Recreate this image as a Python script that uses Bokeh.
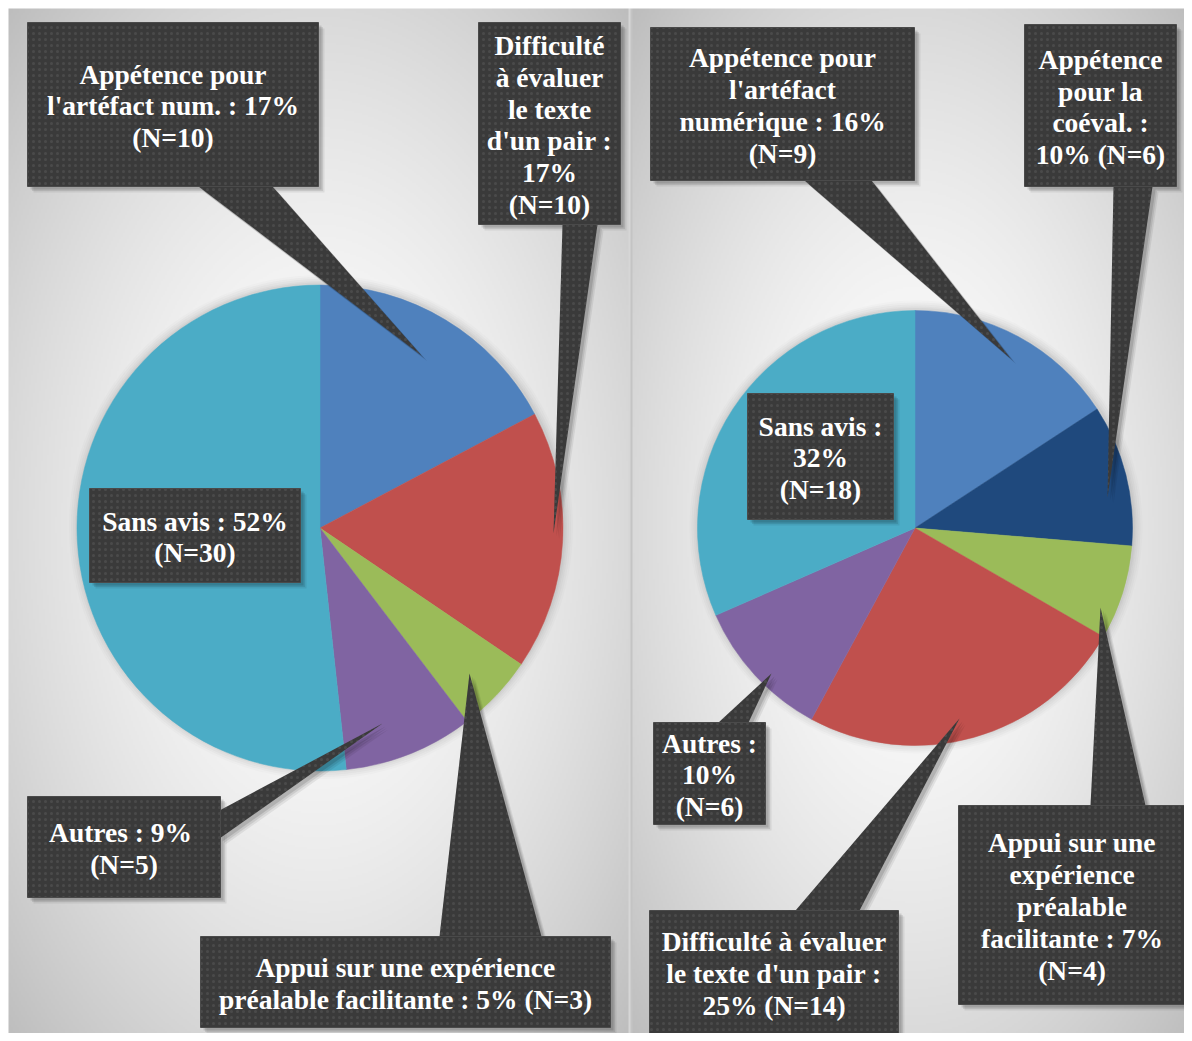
import numpy as np
from bokeh.plotting import figure
from bokeh.models import Range1d, ColumnDataSource
from bokeh.embed import file_html
from bokeh.resources import INLINE
from bokeh.core.properties import value

# ---------------- data ----------------
left_categories = ["Appétence pour l'artéfact num.",
                   "Difficulté à évaluer le texte d'un pair",
                   "Appui sur une expérience préalable facilitante",
                   "Autres",
                   "Sans avis"]
left_counts = [10, 10, 3, 5, 30]
left_colors = ["#4F81BD", "#C0504D", "#9BBB59", "#8064A2", "#4BACC6"]
left_texts = ["Appétence pour\nl'artéfact num. : 17%\n(N=10)",
              "Difficulté\nà évaluer\nle texte\nd'un pair :\n17%\n(N=10)",
              "Appui sur une expérience\npréalable facilitante : 5% (N=3)",
              "Autres :  9%\n(N=5)",
              "Sans avis : 52%\n(N=30)"]

right_categories = ["Appétence pour l'artéfact numérique",
                    "Appétence pour la coéval.",
                    "Appui sur une expérience préalable facilitante",
                    "Difficulté à évaluer le texte d'un pair",
                    "Autres",
                    "Sans avis"]
right_counts = [9, 6, 4, 14, 6, 18]
right_colors = ["#4F81BD", "#1F497D", "#9BBB59", "#C0504D", "#8064A2", "#4BACC6"]
right_texts = ["Appétence pour\nl'artéfact\nnumérique : 16%\n(N=9)",
               "Appétence\npour la\ncoéval. :\n10% (N=6)",
               "Appui sur une\nexpérience\npréalable\nfacilitante : 7%\n(N=4)",
               "Difficulté à évaluer\nle texte d'un pair :\n25% (N=14)",
               "Autres :\n10%\n(N=6)",
               "Sans avis :\n32%\n(N=18)"]

# ---------------- layout (reference pixel coordinates) ----------------
W, H = 1184, 1033
YOFF = H  # data y = YOFF - pixel y

def Y(v):
    return YOFF - np.asarray(v, dtype=float)

left_pie = dict(cx=319.5, cy=527.5, r=243)
right_pie = dict(cx=914.5, cy=527.5, r=217.5)

# boxes: left, right, top, bottom ; pointers: base1, base2, tip (or None)
left_boxes = [(27, 318, 22, 186), (478, 620, 22, 224), (200, 610, 936, 1027),
              (27, 220, 796, 897), (89, 300, 488, 582)]
left_ptrs = [((198, 186), (272, 186), (421, 355)),
             ((562, 224), (597, 224), (553, 533)),
             ((439, 936), (541, 936), (469, 673)),
             ((219, 810), (219, 838), (382, 723)),
             None]
right_boxes = [(650, 914, 27, 180), (1024, 1176, 24, 186), (958, 1185, 805, 1004),
               (649, 898, 910, 1033), (653, 765, 722, 824), (747, 893, 393, 519)]
right_ptrs = [((804, 180), (871, 180), (1010, 358)),
              ((1113, 186), (1152, 186), (1107, 497)),
              ((1090, 805), (1145, 805), (1100, 607)),
              ((795, 910), (859, 910), (959, 718)),
              ((718, 722), (748, 722), (771, 673)),
              None]

BOX = "#3a3a3a"

p = figure(width=W, height=H, output_backend="svg", toolbar_location=None,
           x_range=Range1d(0, W), y_range=Range1d(0, H),
           min_border=0, outline_line_color=None, background_fill_color="white",
           border_fill_color="white")
p.axis.visible = False
p.grid.visible = False

# ---------------- background gradient panels ----------------
step = 2
x0, y0 = 8, 8
xs = np.arange(x0, W, step) + step / 2
ys = np.arange(y0, H, step) + step / 2
XX, YY = np.meshgrid(xs, ys)
g = np.full(XX.shape, 214.0)
left_mask = XX < 629
right_mask = XX >= 633
for mask, cx, cy, hw, hh in [(left_mask, 318, 525, 311, 517), (right_mask, 912, 525, 279, 517)]:
    d = np.sqrt(((XX - cx) / hw) ** 2 + ((YY - cy) / hh) ** 2) / np.sqrt(2)
    val = 255 - 66 * np.clip(d, 0, 1.2) ** 1.6
    g[mask] = val[mask]
g[(XX >= 631) & (XX < 633)] = 196
gi = np.clip(g, 0, 255).astype(np.uint32)
img = (255 << 24) | (gi << 16) | (gi << 8) | gi
img = img[::-1].astype(np.uint32)
p.image_rgba(image=[img], x=x0, y=0, dw=W - x0, dh=H - y0)

# ---------------- pies ----------------
def draw_pie(counts, colors, cats, geo):
    counts = np.asarray(counts, dtype=float)
    frac = np.concatenate([[0], np.cumsum(counts)]) / counts.sum()
    start = np.pi / 2 - 2 * np.pi * frac[:-1]
    end = np.pi / 2 - 2 * np.pi * frac[1:]
    # soft glow/shadow around the pie
    for k, a in [(9, 0.03), (7, 0.04), (5, 0.05), (3, 0.06), (1.5, 0.07)]:
        p.circle(x=[geo["cx"] + 1], y=[Y(geo["cy"] - 1)], radius=geo["r"] + k,
                 fill_color="#707070", fill_alpha=a, line_color=None)
    src = ColumnDataSource(dict(start=start, end=end, color=colors, cat=cats,
                                x=[geo["cx"]] * len(cats), y=[float(Y(geo["cy"]))] * len(cats)))
    p.wedge(x="x", y="y", radius=geo["r"], start_angle="start", end_angle="end",
            direction="clock", fill_color="color", line_color="color", line_width=0.5,
            source=src)

draw_pie(left_counts, left_colors, left_categories, left_pie)
draw_pie(right_counts, right_colors, right_categories, right_pie)

# ---------------- callouts ----------------
boxes = left_boxes + right_boxes
ptrs = left_ptrs + right_ptrs
texts = left_texts + right_texts

px, py = [], []
for ptr in ptrs:
    if ptr is None:
        continue
    px.append([ptr[0][0], ptr[1][0], ptr[2][0]])
    py.append(list(Y([ptr[0][1], ptr[1][1], ptr[2][1]])))

bl = [b[0] for b in boxes]
br = [b[1] for b in boxes]
bt = list(Y([b[2] for b in boxes]))
bb = list(Y([b[3] for b in boxes]))

# shadows
for off, a in [(6, 0.07), (4.5, 0.09), (3, 0.12)]:
    p.patches(xs=[[x + off for x in xx] for xx in px], ys=[[y - off for y in yy] for yy in py],
              fill_color="black", fill_alpha=a, line_color=None)
    p.quad(left=[v + off for v in bl], right=[v + off for v in br],
           top=[v - off for v in bt], bottom=[v - off for v in bb],
           fill_color="black", fill_alpha=a, line_color=None)

hatch = dict(hatch_pattern="dot", hatch_color="#707070", hatch_scale=6,
             hatch_weight=1.2, hatch_alpha=0.3)
p.patches(xs=px, ys=py, fill_color=BOX, line_color=None, **hatch)
p.quad(left=bl, right=br, top=bt, bottom=bb, fill_color=BOX,
       line_color="#4a4a4a", line_width=1, **hatch)

tx = [(b[0] + b[1]) / 2 for b in boxes]
ty = [float(Y((b[2] + b[3]) / 2 + 1.5)) for b in boxes]
p.text(x=tx, y=ty, text=texts, text_align="center", text_baseline="middle",
       text_font=value("Liberation Serif"), text_font_style="bold",
       text_font_size="27.5px", text_color="white", text_line_height=1.03)

open("out.html", "w").write(file_html(p, INLINE))
